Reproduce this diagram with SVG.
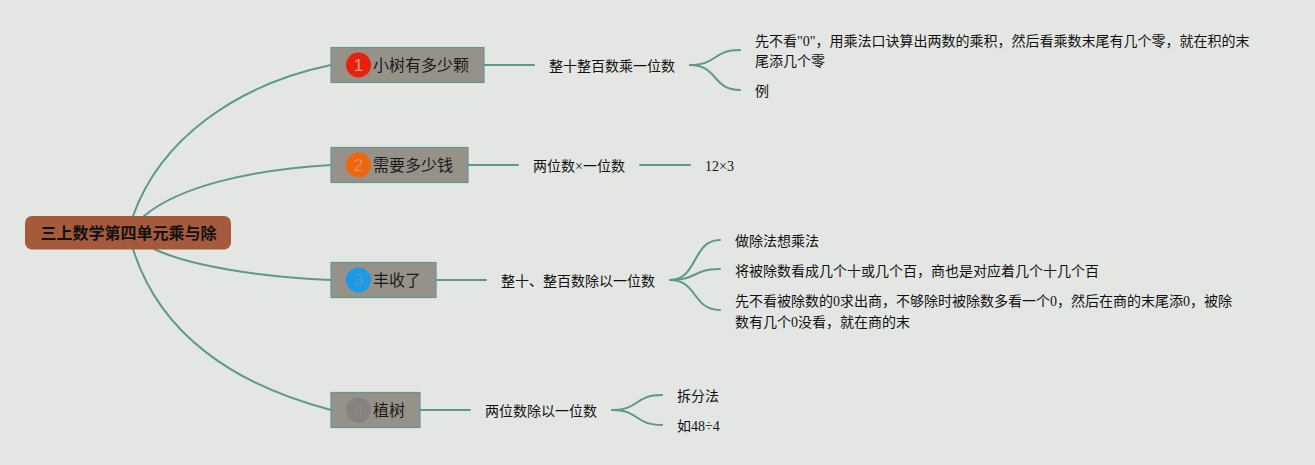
<svg xmlns="http://www.w3.org/2000/svg" width="1315" height="465" viewBox="0 0 1315 465">
<style>
text{font-family:"Liberation Serif","Noto Sans CJK SC",serif;font-size:14px;fill:#111}
.t{font-family:"Noto Sans CJK SC","Noto Sans",sans-serif;font-size:16px;fill:#1a1a1a}
.r{font-family:"Noto Sans CJK SC",sans-serif;font-size:16px;font-weight:700;fill:#111}
.b{fill:#969189;stroke:#5f9b8c;stroke-width:1.2}
.n{font-family:"Liberation Sans",sans-serif;font-size:17px;text-anchor:middle}
path{fill:none;stroke:#5b9a8a;stroke-width:2;stroke-linecap:round}
</style>
<rect width="1315" height="465" fill="#e3e6e3"/>
<g id="connectors">
<path d="M133 216C160 140 235 85 331 65"/>
<path d="M144 216C180 186 250 170 331 165"/>
<path d="M154 249C190 266 260 277 331 280"/>
<path d="M133 249C160 335 235 385 331 410"/>
<path d="M484 65H534"/>
<path d="M468 165H518"/>
<path d="M436 280H486"/>
<path d="M420 410H470"/>
<path d="M690 65C718 65 712 50 740 50"/>
<path d="M690 65C718 65 712 90 740 90"/>
<path d="M640 165H690"/>
<path d="M670 280C698 280 692 240 720 240"/>
<path d="M670 280C698 280 692 269 720 269"/>
<path d="M670 280C698 280 692 310 720 310"/>
<path d="M612 410C640 410 634 395 662 395"/>
<path d="M612 410C640 410 634 425 662 425"/>
</g>
<g id="root"><rect x="25" y="216" width="206" height="33.500" rx="7" fill="#a65a3c"/><text class="r" x="40.500" y="239">三上数学第四单元乘与除</text></g>
<g id="node1"><rect class="b" x="331" y="47.500" width="153" height="35"/><circle cx="358.500" cy="65" r="12.500" fill="#e8200c"/><text class="n" x="358.500" y="71" style="fill:#e0a090">1</text><text class="t" x="373" y="71">小树有多少颗</text></g>
<g id="node2"><rect class="b" x="331" y="147.500" width="137" height="35"/><circle cx="358.500" cy="165" r="12.500" fill="#f0660f"/><text class="n" x="358.500" y="171" style="fill:#d9935f">2</text><text class="t" x="373" y="171">需要多少钱</text></g>
<g id="node3"><rect class="b" x="331" y="262.500" width="105" height="35"/><circle cx="358.500" cy="280" r="12.500" fill="#1a9be8"/><text class="n" x="358.500" y="286" style="fill:#5a95ba">3</text><text class="t" x="373" y="286">丰收了</text></g>
<g id="node4"><rect class="b" x="331" y="392.500" width="89" height="35"/><circle cx="358.500" cy="410" r="12.500" fill="#85837f"/><text class="n" x="358.500" y="416" style="fill:#8c8a86">4</text><text class="t" x="373" y="416">植树</text></g>
<g id="n1a"><text x="549" y="71">整十整百数乘一位数</text></g>
<g id="n1b"><text x="755" y="46">先不看"0"，用乘法口诀算出两数的乘积，然后看乘数末尾有几个零，就在积的末</text><text x="755" y="66">尾添几个零</text></g>
<g id="n1c"><text x="755" y="96">例</text></g>
<g id="n2a"><text x="533" y="171">两位数×一位数</text></g>
<g id="n2b"><text x="705" y="171">12×3</text></g>
<g id="n3a"><text x="501" y="286">整十、整百数除以一位数</text></g>
<g id="n3b"><text x="735" y="246">做除法想乘法</text></g>
<g id="n3c"><text x="735" y="276">将被除数看成几个十或几个百，商也是对应着几个十几个百</text></g>
<g id="n3d"><text x="735" y="306">先不看被除数的0求出商，不够除时被除数多看一个0，然后在商的末尾添0，被除</text><text x="735" y="327">数有几个0没看，就在商的末</text></g>
<g id="n4a"><text x="485" y="416">两位数除以一位数</text></g>
<g id="n4b"><text x="677" y="401">拆分法</text></g>
<g id="n4c"><text x="677" y="431">如48÷4</text></g>
</svg>
